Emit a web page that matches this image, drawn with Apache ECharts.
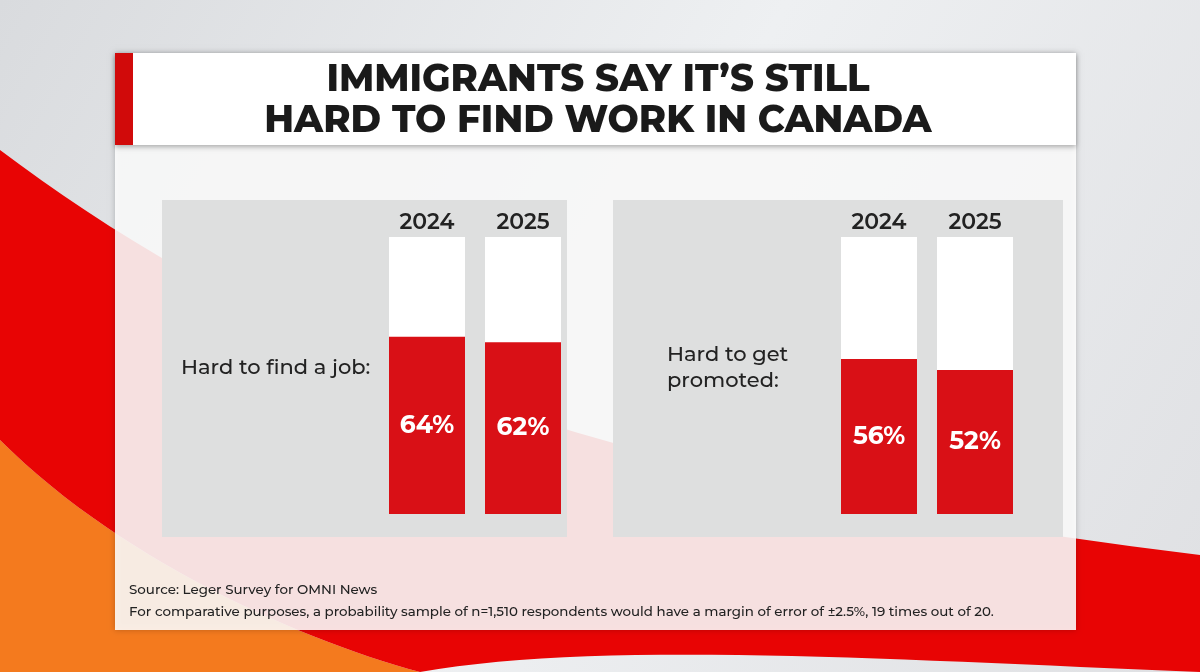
<!DOCTYPE html>
<html><head><meta charset="utf-8">
<script src="https://cdn.jsdelivr.net/npm/echarts@6/dist/echarts.min.js"></script>
<style>html,body{margin:0;padding:0}#c{width:1200px;height:672px}</style>
</head><body><div id="c"></div>
<script>
var years = ['2024', '2025'];
var jobValues = [64, 62];
var promoValues = [56, 52];
var titleLines = ['IMMIGRANTS SAY IT\u2019S STILL', 'HARD TO FIND WORK IN CANADA'];

var chart = echarts.init(document.getElementById('c'));
var font = 'Montserrat, "Open Sans", "DejaVu Sans", sans-serif';

// sample a cubic bezier into polygon points (background decoration)
function cubic(p0, p1, p2, p3) {
  var pts = [];
  for (var i = 0; i <= 30; i++) {
    var t = i / 30, u = 1 - t;
    pts.push([u*u*u*p0[0] + 3*u*u*t*p1[0] + 3*u*t*t*p2[0] + t*t*t*p3[0],
              u*u*u*p0[1] + 3*u*u*t*p1[1] + 3*u*t*t*p2[1] + t*t*t*p3[1]]);
  }
  return pts;
}
var redTop = cubic([0, 150], [200, 300], [500, 470], [1200, 555]);
var redBottom = cubic([1200, 672], [900, 660], [600, 640], [420, 672]);
var orange = cubic([0, 440], [120, 560], [300, 640], [420, 672]);
var redShape = redTop.concat(redBottom, orange.slice().reverse());
var orangeShape = orange.concat([[0, 672]]);

var bars = [
  { left: 389, year: years[0], v: jobValues[0] },
  { left: 485, year: years[1], v: jobValues[1] },
  { left: 841, year: years[0], v: promoValues[0] },
  { left: 937, year: years[1], v: promoValues[1] }
];

var grids = [], xAxes = [], yAxes = [], series = [];
bars.forEach(function (b, i) {
  grids.push({ left: b.left, top: 237, width: 76, height: 277 });
  xAxes.push({ type: 'category', gridIndex: i, position: 'top', data: [b.year],
    axisLine: { show: false }, axisTick: { show: false },
    axisLabel: { color: '#222', fontSize: 22, fontWeight: 600, fontFamily: font, margin: 3 } });
  yAxes.push({ type: 'value', gridIndex: i, min: 0, max: 100, show: false });
  series.push({ type: 'bar', xAxisIndex: i, yAxisIndex: i, data: [b.v], barWidth: 76,
    showBackground: true, backgroundStyle: { color: '#ffffff' },
    itemStyle: { color: '#d91016' },
    label: { show: true, position: 'inside', formatter: '{c}%', color: '#fff',
      fontSize: 25, fontWeight: 'bold', fontFamily: font } });
});

var option = {
  backgroundColor: '#e4e5e8',
  animation: false,
  graphic: [
    { type: 'rect', z: 0, shape: { x: 0, y: 0, width: 1200, height: 672 },
      style: { fill: { type: 'linear', x: 0, y: 0, x2: 1, y2: 1, colorStops: [
        { offset: 0, color: '#d9dbde' }, { offset: 0.5, color: '#eef0f2' }, { offset: 1, color: '#dfe0e3' }] } } },
    { type: 'polygon', z: 0, shape: { points: orangeShape }, style: { fill: '#f47a1e' } },
    { type: 'polygon', z: 0, shape: { points: redShape }, style: { fill: '#e80404' } },
    { type: 'rect', z: 0, shape: { x: 115, y: 53, width: 961, height: 577 },
      style: { fill: 'rgba(255,255,255,0.88)', shadowBlur: 6, shadowColor: 'rgba(0,0,0,0.25)' } },
    { type: 'rect', z: 0, shape: { x: 115, y: 53, width: 961, height: 92 },
      style: { fill: '#ffffff', shadowBlur: 5, shadowOffsetY: 2, shadowColor: 'rgba(0,0,0,0.3)' } },
    { type: 'rect', z: 0, shape: { x: 115, y: 53, width: 18, height: 92 }, style: { fill: '#d10a0a' } },
    { type: 'text', z: 0, style: { text: titleLines.join('\n'), x: 598, y: 101, align: 'center', verticalAlign: 'middle',
      fill: '#1a1a1a', font: '800 37px ' + font, lineHeight: 41 } },
    { type: 'rect', z: 0, shape: { x: 162, y: 200, width: 405, height: 337 }, style: { fill: '#dedfdf' } },
    { type: 'rect', z: 0, shape: { x: 613, y: 200, width: 450, height: 337 }, style: { fill: '#dedfdf' } },
    { type: 'text', style: { text: 'Hard to find a job:', x: 181, y: 368, verticalAlign: 'middle',
      fill: '#222', font: '500 21px ' + font } },
    { type: 'text', style: { text: 'Hard to get\npromoted:', x: 667, y: 368, verticalAlign: 'middle',
      fill: '#222', font: '500 21px ' + font, lineHeight: 26 } },
    { type: 'text', style: { text: 'Source: Leger Survey for OMNI News', x: 129, y: 590, verticalAlign: 'middle',
      fill: '#222', font: '500 13.4px ' + font } },
    { type: 'text', style: { text: 'For comparative purposes, a probability sample of n=1,510 respondents would have a margin of error of \u00b12.5%, 19 times out of 20.',
      x: 129, y: 612, verticalAlign: 'middle', fill: '#222', font: '500 13.4px ' + font } }
  ],
  grid: grids, xAxis: xAxes, yAxis: yAxes, series: series
};
chart.setOption(option);
</script></body></html>
